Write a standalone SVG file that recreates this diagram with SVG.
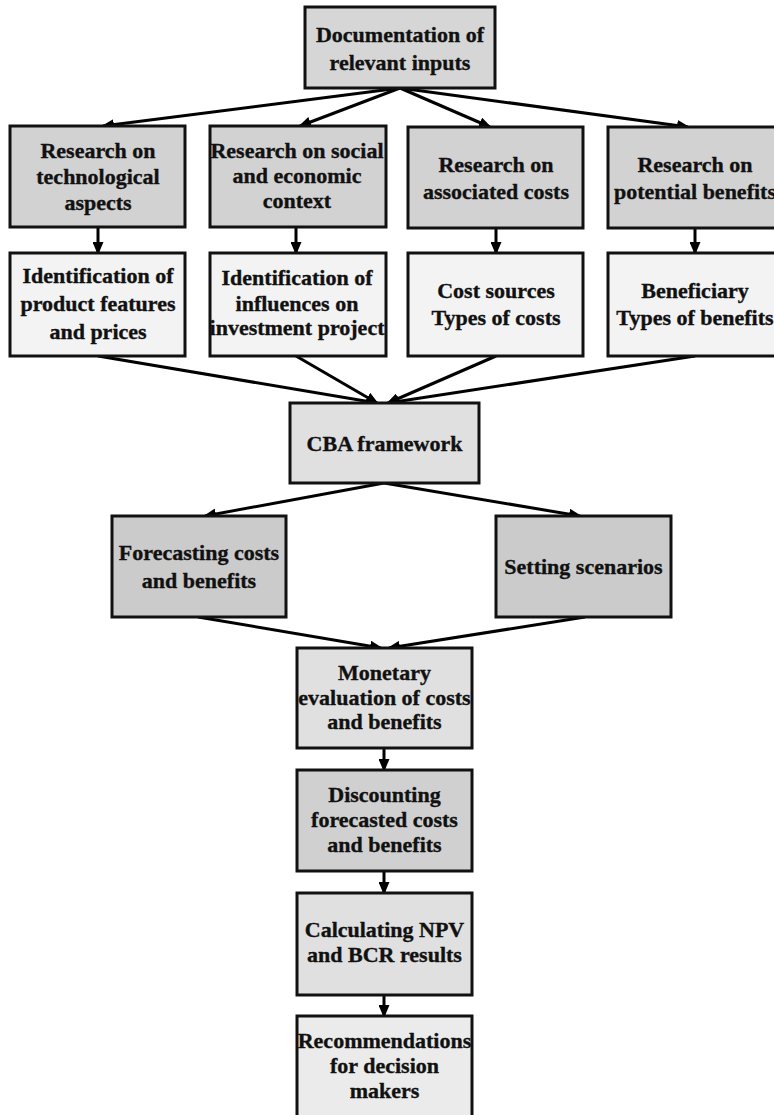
<svg xmlns="http://www.w3.org/2000/svg" width="774" height="1115" viewBox="0 0 774 1115">
<style>
.box{stroke:#111;stroke-width:3}
.t{font-family:"Liberation Serif","Times New Roman",serif;font-weight:bold;font-size:22px;fill:#111;stroke:#111;stroke-width:0.35;text-anchor:middle}
.c{stroke:#000;stroke-width:3;fill:none;marker-end:url(#ah)}
</style>
<defs>
<marker id="ah" markerUnits="userSpaceOnUse" markerWidth="13" markerHeight="11" refX="11" refY="5.5" orient="auto">
<path d="M0,0 L13,5.5 L0,11 z" fill="#000"/>
</marker>
</defs>
<rect width="774" height="1115" fill="#fff"/>
<g id="connectors">
<line class="c" x1="400" y1="88" x2="103" y2="126"/>
<line class="c" x1="400" y1="88" x2="300" y2="126"/>
<line class="c" x1="400" y1="88" x2="490" y2="127"/>
<line class="c" x1="400" y1="88" x2="688" y2="127"/>
<line class="c" x1="98" y1="227" x2="98" y2="253"/>
<line class="c" x1="296" y1="227" x2="296" y2="253"/>
<line class="c" x1="496" y1="228" x2="496" y2="253"/>
<line class="c" x1="695" y1="228" x2="695" y2="253"/>
<line class="c" x1="98" y1="356" x2="377" y2="403"/>
<line class="c" x1="296" y1="356" x2="377" y2="403"/>
<line class="c" x1="496" y1="356" x2="388" y2="403"/>
<line class="c" x1="695" y1="356" x2="388" y2="403"/>
<line class="c" x1="384" y1="483" x2="205" y2="516"/>
<line class="c" x1="384" y1="483" x2="580" y2="516"/>
<line class="c" x1="198" y1="617" x2="381" y2="648"/>
<line class="c" x1="585" y1="617" x2="389" y2="648"/>
<line class="c" x1="384" y1="748" x2="384" y2="770"/>
<line class="c" x1="384" y1="871" x2="384" y2="893"/>
<line class="c" x1="384" y1="995" x2="384" y2="1016"/>
</g>
<g id="n_doc">
<rect class="box" x="305" y="7" width="190" height="81" fill="#d6d6d6"/>
<text class="t" x="400" y="42" font-size="24">Documentation of</text>
<text class="t" x="400" y="70" font-size="24">relevant inputs</text>
</g>
<g id="n_tech">
<rect class="box" x="10" y="126" width="175" height="101" fill="#d2d2d2"/>
<text class="t" x="98" y="158" font-size="24">Research on</text>
<text class="t" x="98" y="184" font-size="24">technological</text>
<text class="t" x="98" y="210" font-size="24">aspects</text>
</g>
<g id="n_social">
<rect class="box" x="210" y="126" width="176" height="101" fill="#d2d2d2"/>
<text class="t" x="297" y="158" font-size="20.2">Research on social</text>
<text class="t" x="297" y="183" font-size="20.2">and economic</text>
<text class="t" x="297" y="208" font-size="20.2">context</text>
</g>
<g id="n_costs">
<rect class="box" x="408" y="127" width="175" height="101" fill="#d2d2d2"/>
<text class="t" x="496" y="172" font-size="24">Research on</text>
<text class="t" x="496" y="199" font-size="24">associated costs</text>
</g>
<g id="n_benefits">
<rect class="box" x="608" y="127" width="175" height="101" fill="#d2d2d2"/>
<text class="t" x="695" y="172" font-size="24">Research on</text>
<text class="t" x="695" y="199" font-size="24">potential benefits</text>
</g>
<g id="n_product">
<rect class="box" x="10" y="253" width="175" height="103" fill="#f3f3f3"/>
<text class="t" x="98" y="283" font-size="24">Identification of</text>
<text class="t" x="98" y="311" font-size="24">product features</text>
<text class="t" x="98" y="339" font-size="24">and prices</text>
</g>
<g id="n_influences">
<rect class="box" x="210" y="253" width="176" height="103" fill="#f3f3f3"/>
<text class="t" x="297" y="285" font-size="20.3">Identification of</text>
<text class="t" x="297" y="311" font-size="20.3">influences on</text>
<text class="t" x="297" y="335" font-size="19.8">investment project</text>
</g>
<g id="n_costsources">
<rect class="box" x="408" y="253" width="175" height="103" fill="#f3f3f3"/>
<text class="t" x="496" y="298" font-size="23.4">Cost sources</text>
<text class="t" x="496" y="325" font-size="23.4">Types of costs</text>
</g>
<g id="n_beneficiary">
<rect class="box" x="608" y="253" width="175" height="103" fill="#f3f3f3"/>
<text class="t" x="695" y="298" font-size="23.4">Beneficiary</text>
<text class="t" x="695" y="325" font-size="23.4">Types of benefits</text>
</g>
<g id="n_cba">
<rect class="box" x="290" y="403" width="189" height="80" fill="#e0e0e0"/>
<text class="t" x="384.5" y="451" font-size="24.5">CBA framework</text>
</g>
<g id="n_forecast">
<rect class="box" x="112" y="516" width="174" height="101" fill="#cbcbcb"/>
<text class="t" x="199" y="560" font-size="24.5">Forecasting costs</text>
<text class="t" x="199" y="588" font-size="24.5">and benefits</text>
</g>
<g id="n_scenarios">
<rect class="box" x="496" y="516" width="175" height="101" fill="#cbcbcb"/>
<text class="t" x="583.5" y="574" font-size="24.5">Setting scenarios</text>
</g>
<g id="n_monetary">
<rect class="box" x="297" y="648" width="175" height="100" fill="#e0e0e0"/>
<text class="t" x="384.5" y="680" font-size="22">Monetary</text>
<text class="t" x="384.5" y="705" font-size="21">evaluation of costs</text>
<text class="t" x="384.5" y="729" font-size="20.8">and benefits</text>
</g>
<g id="n_discount">
<rect class="box" x="297" y="770" width="175" height="101" fill="#d0d0d0"/>
<text class="t" x="384.5" y="802" font-size="20.6">Discounting</text>
<text class="t" x="384.5" y="827" font-size="20.4">forecasted costs</text>
<text class="t" x="384.5" y="852" font-size="20.6">and benefits</text>
</g>
<g id="n_npv">
<rect class="box" x="297" y="893" width="175" height="102" fill="#e0e0e0"/>
<text class="t" x="384.5" y="937" font-size="21">Calculating NPV</text>
<text class="t" x="384.5" y="962" font-size="21">and BCR results</text>
</g>
<g id="n_recommend">
<rect class="box" x="297" y="1016" width="175" height="110" fill="#ebebeb"/>
<text class="t" x="384.5" y="1048" font-size="20.5">Recommendations</text>
<text class="t" x="384.5" y="1073" font-size="21">for decision</text>
<text class="t" x="384.5" y="1098" font-size="21">makers</text>
</g>
</svg>
